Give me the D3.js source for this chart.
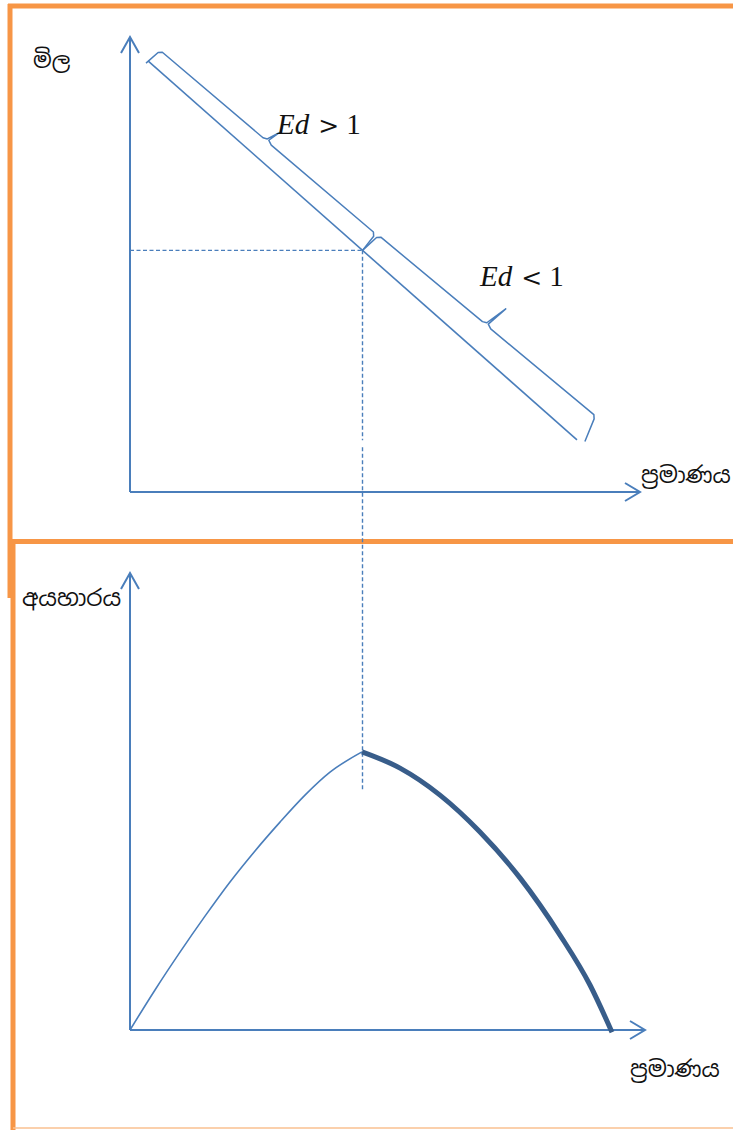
<!DOCTYPE html>
<html>
<head>
<meta charset="utf-8">
<script src="https://cdn.jsdelivr.net/npm/d3@7"></script>
<style>
  html,body{margin:0;padding:0;background:#fff;}
  svg{display:block;}
</style>
</head>
<body>
<svg id="chart" width="733" height="1130"></svg>
<script>
// ---------------- DATA ----------------
// Top panel: linear demand curve (quantity, price)
const demandQ = [0.36, 8.94];
const demandP = [9.58, 1.16];
// Braces along the demand curve (fractions of the line)
const braceLabels = ["Ed", "Ed"];
const braceRel = [">", "<"];
const braceFrom = [0.0, 0.5];
const braceTo = [0.5, 1.0];
// Bottom panel: total revenue curve (quantity, revenue)
const trRisingQ = [0, 0.5, 1, 1.5, 2, 2.5, 3, 3.5, 4, 4.64];
const trRisingR = [0, 0.89, 1.73, 2.53, 3.29, 3.98, 4.62, 5.22, 5.73, 6.18];
const trFallingQ = [4.64, 5.4, 6.2, 7.0, 7.8, 8.6, 9.2, 9.64];
const trFallingR = [6.18, 5.82, 5.22, 4.40, 3.38, 2.11, 1.0, -0.05];
// Axis titles
const topYTitle = "මිල";
const topXTitle = "ප්‍රමාණය";
const botYTitle = "අයහාරය";
const botXTitle = "ප්‍රමාණය";

// ---------------- SETUP ----------------
const svg = d3.select("#chart");
const BLUE = "#4a7ebb", DARK = "#385d8a", ORANGE = "#f79646";

const x = d3.scaleLinear().domain([0, 10]).range([130, 630]);
const yTop = d3.scaleLinear().domain([0, 10]).range([492, 42]);
const yBot = d3.scaleLinear().domain([0, 10]).range([1030, 580]);

// ---------------- FRAMES ----------------
const frame = svg.append("g").attr("stroke", ORANGE).attr("fill", "none");
frame.append("line").attr("x1", 8).attr("x2", 733).attr("y1", 6).attr("y2", 6).attr("stroke-width", 5);
frame.append("line").attr("x1", 10).attr("x2", 10).attr("y1", 4).attr("y2", 598).attr("stroke-width", 5);
frame.append("line").attr("x1", 10).attr("x2", 733).attr("y1", 541.5).attr("y2", 541.5).attr("stroke-width", 5);
frame.append("line").attr("x1", 13).attr("x2", 13).attr("y1", 539).attr("y2", 1130).attr("stroke-width", 5);
frame.append("line").attr("x1", 13).attr("x2", 733).attr("y1", 1128).attr("y2", 1128).attr("stroke-width", 1.5).attr("stroke", "#fac090");

// ---------------- AXES ----------------
function axes(yScale, xEndPx, yTopPx) {
  const g = svg.append("g").attr("stroke", BLUE).attr("fill", "none").attr("stroke-width", 2);
  const ox = x(0), oy = yScale(0);
  g.append("line").attr("x1", ox).attr("y1", oy).attr("x2", xEndPx).attr("y2", oy);
  g.append("line").attr("x1", ox).attr("y1", oy).attr("x2", ox).attr("y2", yTopPx);
  g.append("path").attr("d", `M${xEndPx - 15},${oy - 9}L${xEndPx},${oy}L${xEndPx - 15},${oy + 9}`);
  g.append("path").attr("d", `M${ox - 9},${yTopPx + 16}L${ox},${yTopPx}L${ox + 9},${yTopPx + 16}`);
}
axes(yTop, 640, 37);
axes(yBot, 645, 573);

// ---------------- DEMAND CURVE ----------------
const dLine = d3.line().x(d => x(d[0])).y(d => yTop(d[1]));
const demand = demandQ.map((q, i) => [q, demandP[i]]);
svg.append("path").attr("d", dLine(demand))
  .attr("stroke", BLUE).attr("stroke-width", 1.6).attr("fill", "none");

const p0 = [x(demandQ[0]), yTop(demandP[0])];
const p1 = [x(demandQ[1]), yTop(demandP[1])];
const L = Math.hypot(p1[0] - p0[0], p1[1] - p0[1]);
const u = [(p1[0] - p0[0]) / L, (p1[1] - p0[1]) / L];
const n = [u[1], -u[0]]; // perpendicular, toward upper-right
const P = (t, along, off) => [p0[0] + u[0] * (t * L + along) + n[0] * off,
                              p0[1] + u[1] * (t * L + along) + n[1] * off];

// brace offsets (pixels) grow slightly along the line
const braceOff0 = [16, 22], braceOff1 = [21, 30], braceTip = [15, 25];
const braceStart = [[0, -3], [0, 0]], braceEnd = [[0, 0], [7, 4]];
braceFrom.forEach((t0, i) => {
  const t1 = braceTo[i], tm = (t0 + t1) / 2;
  const o0 = braceOff0[i], o1 = braceOff1[i], om = (o0 + o1) / 2;
  const pts = [
    P(t0, braceStart[i][0], braceStart[i][1]),
    P(t0, 2, o0 - 3),
    P(t0, 5, o0),
    P(tm, -6, om),
    P(tm, -2, om + 2),
    P(tm, 3, om + braceTip[i]),
    P(tm, 0, om + 2),
    P(tm, 5, om),
    P(t1, -4, o1),
    P(t1, -1, o1 - 3),
    P(t1, braceEnd[i][0], braceEnd[i][1])
  ];
  svg.append("path").attr("d", d3.line()(pts))
    .attr("stroke", BLUE).attr("stroke-width", 1.5).attr("fill", "none")
    .attr("stroke-linejoin", "round");
});

// brace labels
const labelPos = [[277, 134], [480, 286]];
braceLabels.forEach((lab, i) => {
  const t = svg.append("text").attr("x", labelPos[i][0]).attr("y", labelPos[i][1])
    .attr("font-family", "'Liberation Serif', 'DejaVu Serif', serif")
    .attr("font-size", 29).attr("fill", "#111");
  t.append("tspan").attr("font-style", "italic").text(lab);
  t.append("tspan").attr("dx", 9).attr("font-family", "'DejaVu Serif', serif")
    .attr("font-size", 25).text(braceRel[i]);
  t.append("tspan").attr("dx", 7).text("1");
});

// ---------------- UNIT ELASTIC GUIDES ----------------
const uq = (demandQ[0] + demandQ[1]) / 2, up = (demandP[0] + demandP[1]) / 2;
const guide = svg.append("g").attr("stroke", BLUE).attr("stroke-width", 1.4)
  .attr("stroke-dasharray", "4,2.5").attr("fill", "none");
guide.append("line").attr("x1", x(0)).attr("x2", x(uq)).attr("y1", yTop(up)).attr("y2", yTop(up));
guide.append("line").attr("x1", x(uq)).attr("x2", x(uq)).attr("y1", yTop(up)).attr("y2", yTop(up) + 190);
guide.append("line").attr("x1", x(uq)).attr("x2", x(uq)).attr("y1", yTop(up) + 197).attr("y2", yBot(trRisingR[trRisingR.length - 1]) + 38);

// ---------------- TOTAL REVENUE ----------------
const trLine = d3.line().x(d => x(d[0])).y(d => yBot(d[1])).curve(d3.curveMonotoneX);
svg.append("path").attr("d", trLine(trRisingQ.map((q, i) => [q, trRisingR[i]])))
  .attr("stroke", BLUE).attr("stroke-width", 1.6).attr("fill", "none");
svg.append("path").attr("d", trLine(trFallingQ.map((q, i) => [q, trFallingR[i]])))
  .attr("stroke", DARK).attr("stroke-width", 5).attr("fill", "none");

// ---------------- AXIS TITLES ----------------
const sinhalaFont = "'Noto Sans Sinhala', 'Iskoola Pota', 'Noto Sans', sans-serif";
function title(txt, px, py, size) {
  svg.append("text").attr("x", px).attr("y", py).attr("font-family", sinhalaFont)
    .attr("font-size", size).attr("fill", "#111").text(txt);
}
title(topYTitle, 33, 68, 22);
title(topXTitle, 641, 483, 22.5);
title(botYTitle, 22, 606, 23);
title(botXTitle, 630, 1077, 22.5);
</script>
</body>
</html>
